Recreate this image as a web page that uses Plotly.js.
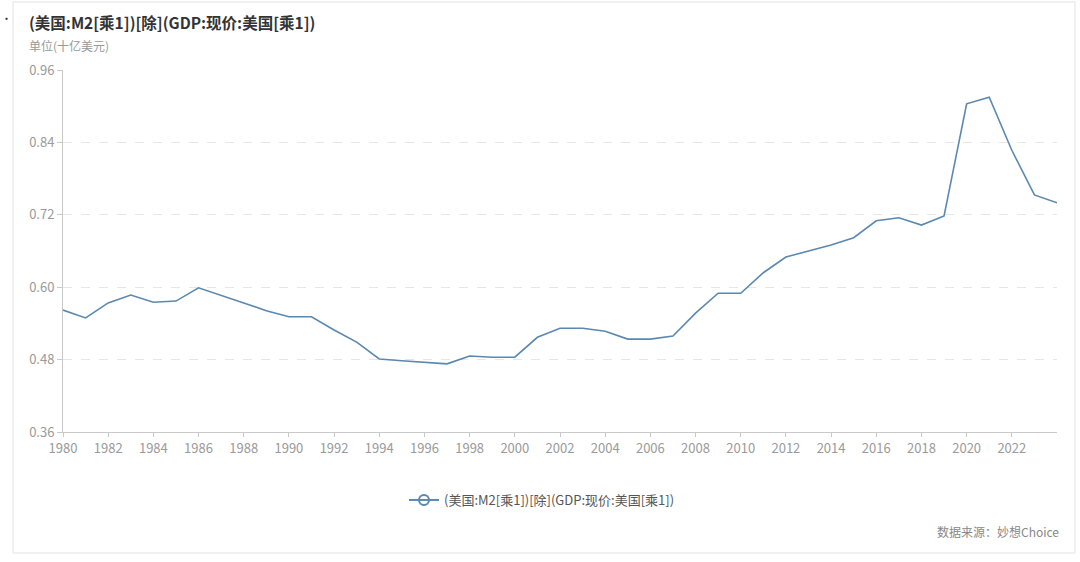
<!DOCTYPE html>
<html>
<head>
<meta charset="utf-8">
<script src="https://cdn.plot.ly/plotly-3.0.1.min.js"></script>
<style>
html,body{margin:0;padding:0;background:#fff;}
#chart{width:1080px;height:562px;}
</style>
</head>
<body>
<div id="chart"></div>
<script>
const years = [1980,1981,1982,1983,1984,1985,1986,1987,1988,1989,1990,1991,1992,1993,1994,1995,1996,1997,1998,1999,2000,2001,2002,2003,2004,2005,2006,2007,2008,2009,2010,2011,2012,2013,2014,2015,2016,2017,2018,2019,2020,2021,2022,2023,2024];
const ratio = [0.562,0.549,0.574,0.587,0.575,0.577,0.599,0.587,0.574,0.561,0.551,0.551,0.529,0.509,0.481,0.478,0.476,0.473,0.486,0.484,0.484,0.517,0.532,0.532,0.527,0.514,0.514,0.519,0.557,0.590,0.590,0.624,0.650,0.660,0.670,0.682,0.710,0.715,0.703,0.718,0.904,0.915,0.827,0.753,0.740];
const seriesName = '(美国:M2[乘1])[除](GDP:现价:美国[乘1])';
const titleText = '(美国:M2[乘1])[除](GDP:现价:美国[乘1])';
const unitText = '单位(十亿美元)';
const sourceText = '数据来源：妙想Choice';
const yTicks = [0.36,0.48,0.60,0.72,0.84,0.96];
const xTicks = [1980,1982,1984,1986,1988,1990,1992,1994,1996,1998,2000,2002,2004,2006,2008,2010,2012,2014,2016,2018,2020,2022];

const lineColor = '#5b88b0';
const FONT = '"Noto Sans CJK SC", "Noto Sans", sans-serif';

const traces = [
  {x: years, y: ratio, type: 'scatter', mode: 'lines', line: {color: lineColor, width: 1.6}, showlegend: false, hoverinfo: 'x+y'},
  {x: [null], y: [null], type: 'scatter', mode: 'lines+markers', name: seriesName,
   line: {color: lineColor, width: 2}, marker: {symbol: 'circle-open', size: 10, color: lineColor, line: {width: 2}}, showlegend: true}
];

const L = 63, R = 1057, T = 70, B = 432;
const px = v => (v - L) / (R - L);
const py = v => (B - v) / (B - T);

const layout = {
  width: 1080, height: 562,
  margin: {l: L, r: 1080 - R, t: T, b: 562 - B},
  paper_bgcolor: '#fff', plot_bgcolor: '#fff',
  font: {family: FONT, color: '#999', size: 13},
  xaxis: {
    range: [1980, 2024], tickvals: xTicks,
    showgrid: false, zeroline: false, showline: true, linecolor: '#c8c8c8', linewidth: 1,
    ticks: 'outside', ticklen: 4, tickcolor: '#c8c8c8',
    tickfont: {size: 13, color: '#9a9a9a', family: FONT}
  },
  yaxis: {
    range: [0.36, 0.96], tickvals: yTicks, tickformat: '.2f',
    showgrid: true, gridcolor: '#e6e6e6', griddash: 'dash', gridwidth: 1,
    zeroline: false, showline: true, linecolor: '#c8c8c8', linewidth: 1,
    ticks: 'outside', ticklen: 5, tickcolor: '#c8c8c8',
    tickfont: {size: 13, color: '#9a9a9a', family: FONT}
  },
  showlegend: true,
  legend: {
    x: px(542), y: py(500), xanchor: 'center', yanchor: 'middle',
    orientation: 'h', font: {size: 13, color: '#555', family: FONT},
    bgcolor: 'rgba(0,0,0,0)', itemwidth: 30
  },
  shapes: [
    {type: 'rect', xref: 'paper', yref: 'paper', x0: px(13), x1: px(1075), y0: py(553), y1: py(2),
     line: {color: '#e2e2e2', width: 1}, fillcolor: 'rgba(0,0,0,0)', layer: 'below'}
  ],
  annotations: [
    {xref: 'paper', yref: 'paper', x: px(27), y: py(22), xanchor: 'left', yanchor: 'middle', showarrow: false,
     text: '<b>' + titleText + '</b>', font: {size: 15.5, color: '#333', family: FONT}},
    {xref: 'paper', yref: 'paper', x: px(27), y: py(45), xanchor: 'left', yanchor: 'middle', showarrow: false,
     text: unitText, font: {size: 12, color: '#999', family: FONT}},
    {xref: 'paper', yref: 'paper', x: px(1061), y: py(531), xanchor: 'right', yanchor: 'middle', showarrow: false,
     text: sourceText, font: {size: 12, color: '#888', family: FONT}},
    {xref: 'paper', yref: 'paper', x: px(6), y: py(18), xanchor: 'center', yanchor: 'middle', showarrow: false,
     text: '•', font: {size: 11, color: '#333', family: FONT}}
  ]
};

Plotly.newPlot('chart', traces, layout, {displayModeBar: false, staticPlot: true});
</script>
</body>
</html>
